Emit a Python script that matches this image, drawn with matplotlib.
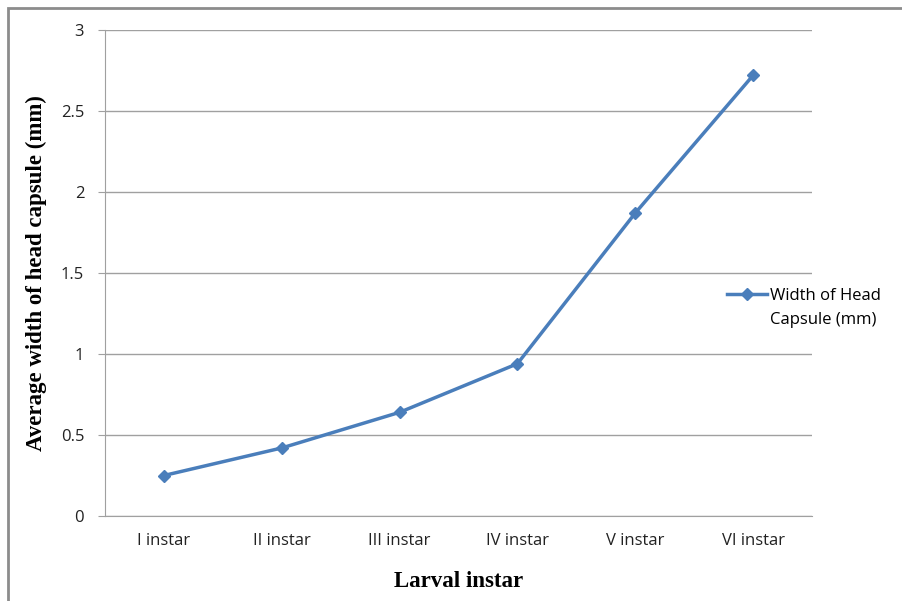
import matplotlib.pyplot as plt
from matplotlib.patches import Rectangle

# данные
instars = ['I instar', 'II instar', 'III instar', 'IV instar', 'V instar', 'VI instar']
width_mm = [0.25, 0.42, 0.64, 0.94, 1.87, 2.72]
y_ticks = [0, 0.5, 1, 1.5, 2, 2.5, 3]
y_tick_labels = ['0', '0.5', '1', '1.5', '2', '2.5', '3']
legend_lines = ['Width of Head', 'Capsule (mm)']

fig = plt.figure(figsize=(9.03, 6.01), dpi=100)
ax = fig.add_axes([105 / 903, 85 / 601, 707 / 903, 486 / 601])

line_color = '#4a7ebb'
x = range(len(instars))
ax.plot(x, width_mm, color=line_color, linewidth=2.5, marker='D', markersize=6,
        label=legend_lines[0])

ax.set_xlim(-0.5, len(instars) - 0.5)
ax.set_ylim(0, 3)
ax.set_yticks(y_ticks)
ax.set_yticklabels(y_tick_labels)
ax.set_xticks(list(x))
ax.set_xticklabels(instars)
ax.grid(axis='y', color='#a0a0a0', linewidth=1)
ax.set_axisbelow(True)

for side in ['top', 'right']:
    ax.spines[side].set_visible(False)
ax.spines['left'].set_color('#a0a0a0')
ax.spines['bottom'].set_color('#a0a0a0')
ax.tick_params(axis='y', length=5, color='#a0a0a0', labelsize=12, pad=10)
ax.tick_params(axis='x', length=0, labelsize=12, pad=12)
for lbl in ax.get_xticklabels() + ax.get_yticklabels():
    lbl.set_family('Open Sans')
    lbl.set_color('#222222')

ax.set_ylabel('Average width of head capsule (mm)', family='Liberation Serif',
              fontweight='bold', fontsize=16.5, labelpad=10)
ax.set_xlabel('Larval instar', family='Liberation Serif', fontweight='bold',
              fontsize=16.5, labelpad=16)

# легенда: первая строка с маркером, вторая строка отдельным текстом
leg = fig.legend(loc='center left', bbox_to_anchor=(712 / 903, 1 - 296 / 601),
                 frameon=False, handlelength=2.4, handletextpad=0.2,
                 prop={'family': 'Open Sans', 'size': 12})
fig.canvas.draw()
bb = leg.get_texts()[0].get_window_extent().transformed(fig.transFigure.inverted())
fig.text(bb.x0, bb.y0 - 24 / 601, legend_lines[1], family='Open Sans', fontsize=12,
         va='bottom', ha='left')

# рамка вокруг всей картинки
fig.patches.append(Rectangle((8 / 903, -0.05), 1.05, 1 - 8 / 601 + 0.05,
                             transform=fig.transFigure, fill=False,
                             edgecolor='#8c8c8c', linewidth=2))

fig.savefig('out.png', dpi=100)
